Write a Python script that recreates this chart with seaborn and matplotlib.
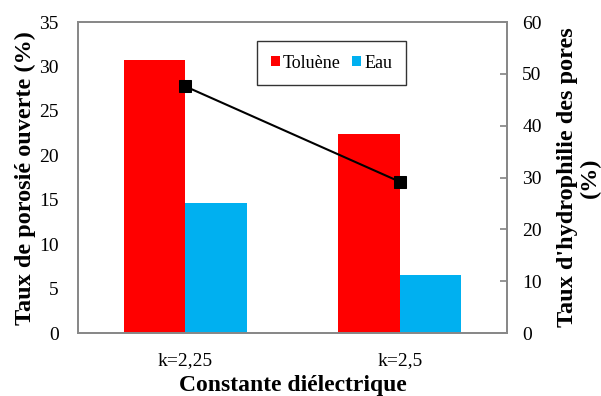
import pandas as pd
import matplotlib
matplotlib.use("Agg")
import matplotlib.pyplot as plt
import seaborn as sns

categories = ["k=2,25", "k=2,5"]
toluene = [30.7, 22.4]
eau = [14.6, 6.5]
hydrophilie = [47.6, 29.2]

df = pd.DataFrame({
    "k": categories * 2,
    "solvant": ["Toluène"] * 2 + ["Eau"] * 2,
    "porosite": toluene + eau,
})

sns.set_theme(style="white")
plt.rcParams["font.family"] = "serif"
plt.rcParams["font.serif"] = ["Liberation Serif", "DejaVu Serif"]
plt.rcParams["text.color"] = "black"
plt.rcParams["axes.labelcolor"] = "black"
plt.rcParams["xtick.color"] = "black"
plt.rcParams["ytick.color"] = "black"

fig, ax = plt.subplots(figsize=(6.01, 3.96), dpi=100)
fig.subplots_adjust(left=0.13, right=0.8436, top=0.944, bottom=0.159)

sns.barplot(data=df, x="k", y="porosite", hue="solvant", ax=ax,
            palette={"Toluène": "#FF0000", "Eau": "#00B0F0"},
            width=0.575, saturation=1, linewidth=0)

ax.set_xlim(-0.5, 1.5)
ax.set_ylim(0, 35)
ax.set_yticks(range(0, 36, 5))
ax.set_xlabel("Constante diélectrique", fontsize=17, fontweight="bold", labelpad=4)
ax.set_ylabel("Taux de porosié ouverte (%)", fontsize=17.5, fontweight="bold", labelpad=2)
ax.tick_params(axis="both", labelsize=14, length=0)
ax.tick_params(axis="y", pad=14)
ax.set_xticks([0.5], minor=True)
ax.tick_params(axis="x", which="minor", length=5, color="#888888", direction="out")
ax.tick_params(axis="x", which="major", pad=14)
for s in ax.spines.values():
    s.set_color("#888888")

leg = ax.legend(loc="upper left", bbox_to_anchor=(0.417, 0.939), ncol=2,
                frameon=True, fancybox=False, fontsize=13, handlelength=0.5,
                handleheight=0.5, handletextpad=0.2, columnspacing=0.6,
                borderpad=0.75, borderaxespad=0)
leg.get_frame().set_edgecolor("black")
leg.get_frame().set_linewidth(1.0)

ax2 = ax.twinx()
sns.lineplot(x=[0, 1], y=hydrophilie, ax=ax2, color="black", marker="s",
             markersize=8, markeredgecolor="black", linewidth=1.5)
ax2.set_ylim(0, 60)
ax2.set_yticks(range(0, 61, 10))
ax2.set_ylabel("Taux d'hydrophilie des pores\n(%)", fontsize=17.5,
               fontweight="bold", linespacing=1.1, labelpad=11)
ax2.tick_params(axis="y", labelsize=14, length=5, direction="in",
                color="#888888", pad=11)
for s in ax2.spines.values():
    s.set_color("#888888")

fig.savefig("out.png", dpi=100)
